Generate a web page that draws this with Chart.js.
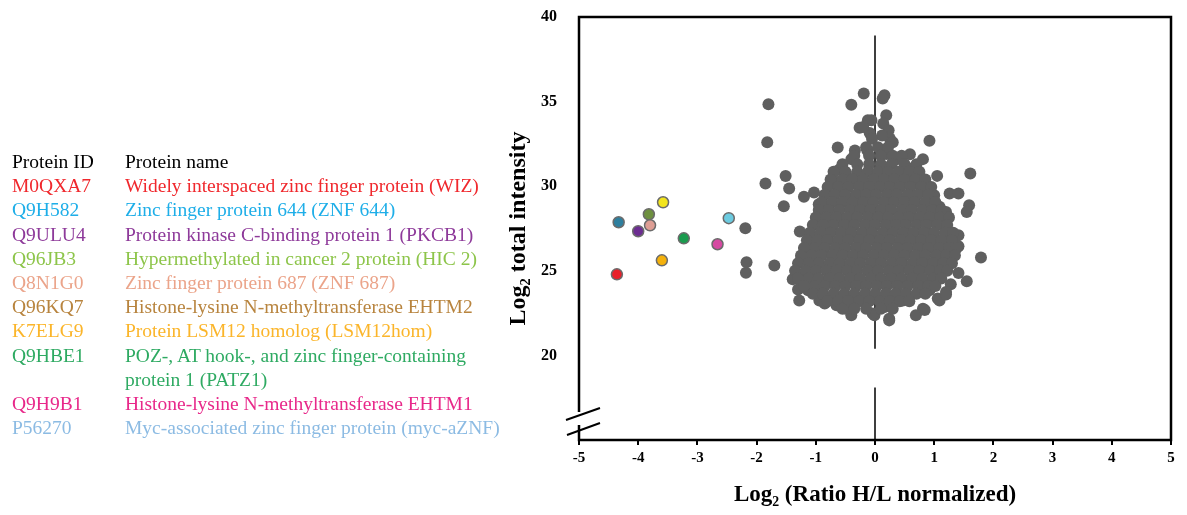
<!DOCTYPE html>
<html>
<head>
<meta charset="utf-8">
<script src="https://cdn.jsdelivr.net/npm/chart.js@4.4.0/dist/chart.umd.min.js"></script>
<style>
  html, body { margin: 0; padding: 0; background: #fff; }
  #wrap { position: relative; width: 1187px; height: 515px; overflow: hidden; }
  #chart { position: absolute; left: 0; top: 0; }
  #table { position: absolute; left: 12px; top: 150px; font-family: "Liberation Serif", "Times New Roman", serif; font-size: 19.5px; line-height: 24.2px; }
  .row { display: flex; white-space: pre-line; }
  .id { width: 113px; flex: none; }
</style>
</head>
<body>
<div id="wrap">
  <canvas id="chart" width="1187" height="515"></canvas>
  <div id="table"></div>
</div>
<script>
// table on the left
const proteinIds = ['M0QXA7', 'Q9H582', 'Q9ULU4', 'Q96JB3', 'Q8N1G0', 'Q96KQ7', 'K7ELG9', 'Q9HBE1', 'Q9H9B1', 'P56270'];
const proteinNames = [
  'Widely interspaced zinc finger protein (WIZ)',
  'Zinc finger protein 644 (ZNF 644)',
  'Protein kinase C-binding protein 1 (PKCB1)',
  'Hypermethylated in cancer 2 protein (HIC 2)',
  'Zinc finger protein 687 (ZNF 687)',
  'Histone-lysine N-methyltransferase EHTM2',
  'Protein LSM12 homolog (LSM12hom)',
  'POZ-, AT hook-, and zinc finger-containing\nprotein 1 (PATZ1)',
  'Histone-lysine N-methyltransferase EHTM1',
  'Myc-associated zinc finger protein (myc-aZNF)'
];
const proteinColors = ['#f0282d', '#1eaee8', '#8e3a9a', '#8dc54a', '#eba48a', '#b8843e', '#fbb52a', '#2eaa62', '#e8288a', '#8cbbe3'];

// highlighted proteins (coloured dots)
const markedX = [-4.36, -4.33, -4.00, -3.82, -3.80, -3.58, -3.60, -3.23, -2.66, -2.47];
const markedY = [24.79, 27.87, 27.34, 28.34, 27.69, 29.05, 25.62, 26.92, 26.57, 28.11];
const markedColors = ['#e8202a', '#2e7f9e', '#6c2d91', '#6e9040', '#de9e94', '#f2e41c', '#f4b10c', '#1a9b4e', '#d64aa2', '#6ccbe0'];

// scattered proteins outside the dense core [x, y]
const outerPoints = [
  [-1.80,34.85], [-1.82,32.6], [-1.85,30.16], [-1.51,30.6], [-1.45,29.86], [-1.20,29.37], [-1.03,29.63], [-1.54,28.82], [-0.95,28.93],
  [-0.19,35.48], [-0.40,34.81], [-0.12,33.9], [-0.26,33.45], [-0.09,33.14], [-0.63,32.29], [-0.34,32.11], [-0.13,32.13], [-0.60,30.99], [-0.71,30.4], [-0.62,29.72], [-0.49,30.75],
  [0.16,35.38], [0.13,35.19], [0.19,34.2], [0.14,33.71], [0.23,33.31], [0.25,32.82], [-0.06,33.9], [0.92,32.68], [0.59,31.89], [0.81,31.6], [1.05,30.61], [1.61,30.75],
  [0.57,31.05], [0.70,31.05], [1.26,29.57], [1.41,29.57], [1.59,28.88], [1.00,29.47], [0.75,30.36], [0.33,31.54],
  [-2.19,27.51], [-2.17,25.5], [-2.18,24.89], [-1.70,25.31], [-1.27,27.32], [-1.10,27.1], [-1.13,26.7], [-0.95,26.8], [-1.24,25.78], [-1.39,24.5], [-1.27,24.6],
  [-1.30,23.89], [-1.28,23.25], [-1.08,24.5], [-0.94,23.25], [-0.85,23.06], [-0.65,22.96], [-0.40,22.37], [-0.49,22.76], [-0.01,22.37], [-0.86,27.69], [-0.77,27.3],
  [-1.13,23.85], [-0.99,23.85],
  [1.55,28.48], [1.20,28.48], [1.41,27.1], [1.41,26.45], [1.79,25.78], [1.23,26.91], [1.28,25.82], [1.41,24.87], [1.55,24.38], [1.28,24.2], [1.20,23.75],
  [1.06,23.36], [1.09,23.25], [0.81,22.76], [0.69,22.37], [0.47,23.25], [0.24,22.17], [0.16,22.86], [-0.04,22.47], [0.92,23.85], [1.03,24.44], [0.89,25.43],
  [1.20,25.13], [1.03,26.21], [1.20,27.99], [1.09,28.78], [0.24,22.07], [0.84,22.68], [1.20,23.6],
  [-0.2,33.5], [0.12,33.0], [0.3,32.6], [-0.05,32.8], [0.2,31.9], [-0.4,31.6]
];

// dense core, one row per intensity level: [y, [x values]]
const coreRows = [
  [32.3, [-0.15, 0.05, 0.22]],
  [31.8, [-0.35, -0.1, 0.1, 0.3, 0.45]],
  [31.3, [-0.55, -0.3, -0.1, 0.1, 0.28, 0.5, 0.7]],
  [30.85, [-0.7, -0.5, -0.3, -0.12, 0.05, 0.22, 0.4, 0.58, 0.75]],
  [30.4, [-0.75, -0.55, -0.38, -0.2, -0.02, 0.15, 0.32, 0.5, 0.68, 0.85]],
  [29.95, [-0.8, -0.62, -0.45, -0.27, -0.1, 0.08, 0.25, 0.42, 0.6, 0.78, 0.95]],
  [29.5, [-0.85, -0.68, -0.5, -0.32, -0.15, 0.02, 0.2, 0.37, 0.55, 0.72, 0.9]],
  [29.05, [-0.9, -0.72, -0.55, -0.38, -0.2, -0.03, 0.15, 0.32, 0.5, 0.67, 0.85, 1.02]],
  [28.6, [-0.95, -0.78, -0.6, -0.42, -0.25, -0.08, 0.1, 0.27, 0.45, 0.62, 0.8, 0.97, 1.12]],
  [28.15, [-1.0, -0.82, -0.65, -0.47, -0.3, -0.12, 0.05, 0.22, 0.4, 0.57, 0.75, 0.92, 1.1, 1.25]],
  [27.7, [-1.05, -0.88, -0.7, -0.52, -0.35, -0.17, 0, 0.18, 0.35, 0.52, 0.7, 0.87, 1.05, 1.22]],
  [27.25, [-1.1, -0.92, -0.75, -0.57, -0.4, -0.22, -0.05, 0.13, 0.3, 0.48, 0.65, 0.83, 1.0, 1.18, 1.32]],
  [26.8, [-1.15, -0.97, -0.8, -0.62, -0.45, -0.27, -0.1, 0.08, 0.25, 0.43, 0.6, 0.78, 0.95, 1.12, 1.3]],
  [26.35, [-1.2, -1.02, -0.85, -0.67, -0.5, -0.32, -0.15, 0.03, 0.2, 0.38, 0.55, 0.73, 0.9, 1.08, 1.25, 1.38]],
  [25.9, [-1.25, -1.07, -0.9, -0.72, -0.55, -0.37, -0.2, -0.02, 0.15, 0.33, 0.5, 0.68, 0.85, 1.03, 1.2, 1.35]],
  [25.45, [-1.3, -1.12, -0.95, -0.77, -0.6, -0.42, -0.25, -0.07, 0.1, 0.28, 0.45, 0.63, 0.8, 0.98, 1.15, 1.3]],
  [25.0, [-1.35, -1.17, -1.0, -0.82, -0.65, -0.47, -0.3, -0.12, 0.05, 0.23, 0.4, 0.58, 0.75, 0.93, 1.1, 1.22]],
  [24.55, [-1.3, -1.12, -0.95, -0.77, -0.6, -0.42, -0.25, -0.07, 0.1, 0.28, 0.45, 0.63, 0.8, 0.98, 1.12]],
  [24.1, [-1.2, -1.02, -0.85, -0.67, -0.5, -0.32, -0.15, 0.03, 0.2, 0.38, 0.55, 0.73, 0.9, 1.02]],
  [23.65, [-1.05, -0.88, -0.7, -0.52, -0.35, -0.17, 0, 0.18, 0.35, 0.52, 0.7, 0.85]],
  [23.2, [-0.8, -0.62, -0.45, -0.27, -0.1, 0.08, 0.25, 0.42, 0.58]],
  [22.75, [-0.55, -0.35, -0.15, 0.1, 0.3]]
];

// vertical reference line at x = 0 (broken around the labels)
const zeroLineY = [15, 18.1, null, 20.4, 38.9];

const xTicks = [-5, -4, -3, -2, -1, 0, 1, 2, 3, 4, 5];
const yTicks = [20, 25, 30, 35, 40];

// build table
const table = document.getElementById('table');
const head = document.createElement('div');
head.className = 'row';
head.innerHTML = '<span class="id">Protein ID</span><span>Protein name</span>';
table.appendChild(head);
proteinIds.forEach((id, i) => {
  const row = document.createElement('div');
  row.className = 'row';
  row.style.color = proteinColors[i];
  const a = document.createElement('span');
  a.className = 'id';
  a.textContent = id;
  const b = document.createElement('span');
  b.textContent = proteinNames[i];
  row.appendChild(a);
  row.appendChild(b);
  table.appendChild(row);
});

const grayPoints = outerPoints.map(p => ({ x: p[0], y: p[1] }));
coreRows.forEach(r => r[1].forEach(x => grayPoints.push({ x: x, y: r[0] })));
const marked = markedX.map((x, i) => ({ x: x, y: markedY[i] }));
const zeroLine = zeroLineY.map(y => ({ x: 0, y: y }));

const serif = '"Liberation Serif", "DejaVu Serif", serif';

// frame + axis break
const framePlugin = {
  id: 'frame',
  afterDraw(chart) {
    const { ctx, chartArea: ca } = chart;
    const l = ca.left, r = ca.right, t = ca.top, b = ca.bottom;
    ctx.save();
    ctx.strokeStyle = '#000';
    ctx.lineWidth = 2.5;
    ctx.beginPath();
    ctx.moveTo(l, b - 15);
    ctx.lineTo(l, b);
    ctx.lineTo(r, b);
    ctx.lineTo(r, t);
    ctx.lineTo(l, t);
    ctx.lineTo(l, b - 28);
    ctx.stroke();
    ctx.lineWidth = 2;
    ctx.beginPath();
    ctx.moveTo(l - 13, b - 20);
    ctx.lineTo(l + 21, b - 32);
    ctx.moveTo(l - 12, b - 5);
    ctx.lineTo(l + 21, b - 17);
    ctx.stroke();
    ctx.restore();
  }
};

new Chart(document.getElementById('chart'), {
  type: 'scatter',
  data: {
    datasets: [
      { data: zeroLine, showLine: true, spanGaps: false, borderColor: '#000', borderWidth: 1.5, pointRadius: 0, order: 3 },
      { data: grayPoints, backgroundColor: '#5f5f5f', borderColor: '#5f5f5f', borderWidth: 0, pointRadius: 6, order: 2 },
      { data: marked, backgroundColor: markedColors, borderColor: '#6b6b6b', borderWidth: 1.5, pointRadius: 5.5, order: 1 }
    ]
  },
  options: {
    responsive: false,
    animation: false,
    devicePixelRatio: 1,
    layout: { padding: { left: 490, right: 16, top: 17, bottom: 0 } },
    plugins: { legend: { display: false }, tooltip: { enabled: false } },
    scales: {
      x: {
        type: 'linear', min: -5, max: 5,
        afterFit: s => { s.height = 75; },
        afterBuildTicks: s => { s.ticks = xTicks.map(v => ({ value: v })); },
        border: { display: false },
        grid: { display: true, drawOnChartArea: false, drawTicks: true, tickLength: 5, color: '#000', lineWidth: 2 },
        ticks: { color: '#000', padding: 4, font: { family: serif, size: 15, weight: 'bold' } },
        title: { display: true, text: 'Log₂ (Ratio H/L normalized)', color: '#000', padding: { top: 0, bottom: 6 }, font: { family: serif, size: 23, weight: 'bold' } }
      },
      y: {
        type: 'linear', min: 15, max: 40,
        afterFit: s => { s.width = 89; s.paddingTop = 9; s.paddingBottom = 9; },
        afterBuildTicks: s => { s.ticks = yTicks.map(v => ({ value: v })); },
        border: { display: false },
        grid: { display: false, drawTicks: false },
        ticks: { color: '#000', padding: 22, font: { family: serif, size: 16, weight: 'bold' } },
        title: { display: true, text: 'Log₂ total intensity', color: '#000', padding: { top: 14.6, bottom: 0 }, font: { family: serif, size: 24, weight: 'bold' } }
      }
    }
  },
  plugins: [framePlugin]
});
</script>
</body>
</html>
